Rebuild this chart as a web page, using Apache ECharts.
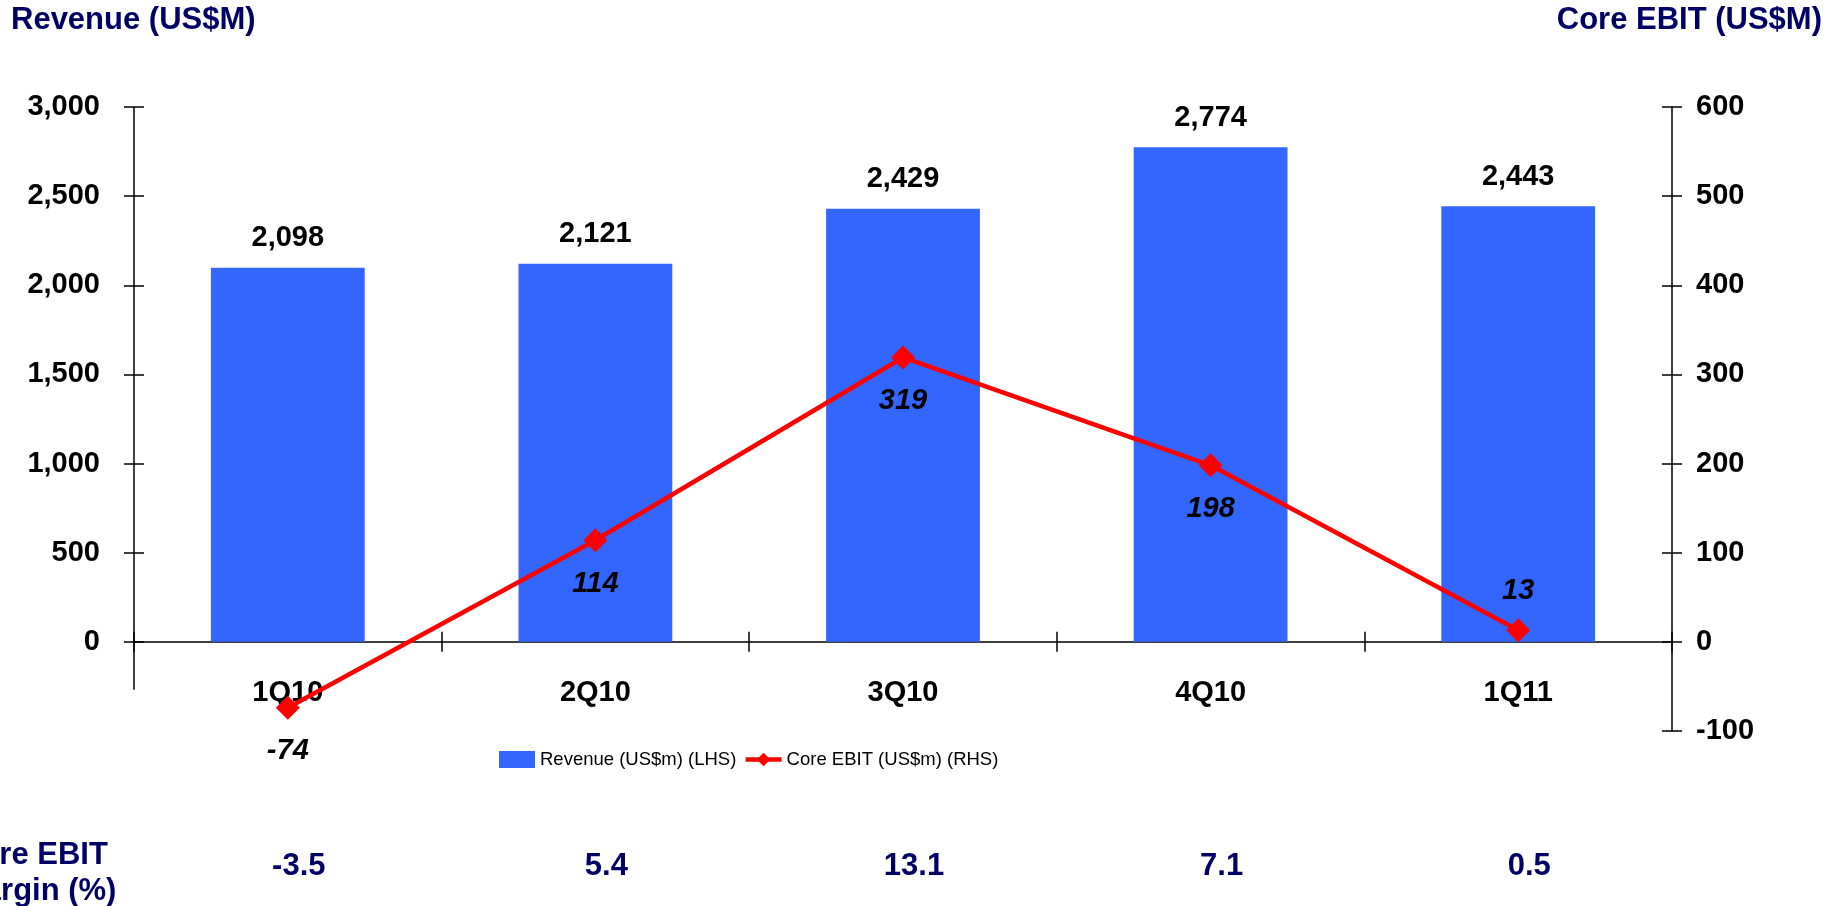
<!DOCTYPE html>
<html><head><meta charset="utf-8">
<script src="https://cdn.jsdelivr.net/npm/echarts@6/dist/echarts.min.js"></script>
<style>html,body{margin:0;padding:0;background:#fff;overflow:hidden}#c{width:1833px;height:906px}</style>
</head><body><div id="c"></div>
<script>
// ---- data ----
const categories = ['1Q10', '2Q10', '3Q10', '4Q10', '1Q11'];
const revenue = [2098, 2121, 2429, 2774, 2443];
const coreEbit = [-74, 114, 319, 198, 13];
const ebitMargin = ['-3.5', '5.4', '13.1', '7.1', '0.5'];
const leftTicks = [0, 500, 1000, 1500, 2000, 2500, 3000];
const rightTicks = [-100, 0, 100, 200, 300, 400, 500, 600];
const ebitLabelAbove = ['1Q11'];

const FONT = "'Liberation Sans', Arial, sans-serif";
const NAVY = '#000066';
const fmt = v => Number(v).toLocaleString('en-US');

const chart = echarts.init(document.getElementById('c'), null, {renderer: 'canvas'});

const GRID = {left: 134, right: 161, top: 107, bottom: 175};
const tickLine = {color: '#000', width: 1.5};
const option = {
  animation: false,
  backgroundColor: '#fff',
  textStyle: {fontFamily: FONT},
  title: [
    {text: 'Revenue (US$M)', left: 11, top: 5, padding: 0,
     textStyle: {fontFamily: FONT, fontSize: 31, fontWeight: 'bold', color: NAVY}},
    {text: 'Core EBIT (US$M)', right: 11, top: 5, padding: 0,
     textStyle: {fontFamily: FONT, fontSize: 31, fontWeight: 'bold', color: NAVY}}
  ],
  legend: {
    left: 499, top: 750, padding: 0,
    itemWidth: 36, itemHeight: 17, itemGap: 7,
    textStyle: {fontFamily: FONT, fontSize: 18.5, color: '#000'},
    data: [
      {name: 'Revenue (US$m) (LHS)', icon: 'rect'},
      {name: 'Core EBIT (US$m) (RHS)', lineStyle: {width: 4.5, color: '#FF0000'}}
    ]
  },
  grid: GRID,
  xAxis: [
    {type: 'category', data: categories, position: 'bottom', offset: 0,
     axisLine: {onZero: false, lineStyle: tickLine},
     axisTick: {show: true, length: 10, lineStyle: tickLine},
     axisLabel: {margin: 37, fontFamily: FONT, fontSize: 29, fontWeight: 'bold', color: '#000'},
     splitLine: {show: false}},
    {type: 'category', data: categories, position: 'bottom', offset: 0,
     axisLine: {show: false, onZero: false},
     axisTick: {show: true, inside: true, length: 10, lineStyle: tickLine},
     axisLabel: {show: false}, splitLine: {show: false}}
  ],
  yAxis: [
    {type: 'value', position: 'left', min: -500, max: 3000, interval: 500,
     axisLine: {show: false},
     axisTick: {show: true, length: 10, lineStyle: tickLine, customValues: leftTicks},
     axisLabel: {margin: 34, fontFamily: FONT, fontSize: 29, fontWeight: 'bold', color: '#000',
                 customValues: leftTicks, formatter: v => v < 0 ? '' : fmt(v)},
     splitLine: {show: false}},
    {type: 'value', position: 'right', min: -100, max: 600, interval: 100,
     axisLine: {show: true, onZero: false, lineStyle: tickLine},
     axisTick: {show: true, length: 10, lineStyle: tickLine, customValues: rightTicks},
     axisLabel: {margin: 24, fontFamily: FONT, fontSize: 29, fontWeight: 'bold', color: '#000',
                 customValues: rightTicks},
     splitLine: {show: false}},
    {type: 'value', position: 'left', min: -500, max: 3000, interval: 500,
     axisLine: {show: false},
     axisTick: {show: true, inside: true, length: 10, lineStyle: tickLine, customValues: leftTicks},
     axisLabel: {show: false}, splitLine: {show: false}},
    {type: 'value', position: 'right', min: -100, max: 600, interval: 100,
     axisLine: {show: false, onZero: false},
     axisTick: {show: true, inside: true, length: 10, lineStyle: tickLine, customValues: rightTicks},
     axisLabel: {show: false}, splitLine: {show: false}}
  ],
  series: [
    {name: 'Revenue (US$m) (LHS)', type: 'bar', xAxisIndex: 0, yAxisIndex: 0,
     data: revenue, barWidth: '50%',
     itemStyle: {color: '#3366FF'},
     label: {show: true, position: 'top', distance: 15, fontFamily: FONT, fontSize: 29,
             fontWeight: 'bold', color: '#000', formatter: p => fmt(p.value)}},
    {name: 'Core EBIT (US$m) (RHS)', type: 'line', xAxisIndex: 0, yAxisIndex: 1,
     data: coreEbit.map((v, i) => ebitLabelAbove.includes(categories[i])
       ? {value: v, label: {position: 'top', distance: 13}} : v),
     symbol: 'diamond', symbolSize: 24,
     lineStyle: {color: '#FF0000', width: 4.5},
     itemStyle: {color: '#FF0000'},
     z: 5,
     label: {show: true, position: 'bottom', distance: 17, fontFamily: FONT, fontSize: 29,
             fontWeight: 'bold', fontStyle: 'italic', color: '#000'}}
  ]
};
chart.setOption(option);

// move the category axis up onto the zero line of the value axes
const zeroY = chart.convertToPixel({yAxisIndex: 0}, 0);
const gridBottomY = 906 - GRID.bottom;
const off = -(gridBottomY - zeroY);
chart.setOption({xAxis: [{offset: off}, {offset: off}]});

// Left axis line (stops a little below zero), margin row and its caption
const axisX = GRID.left;
const yTop = chart.convertToPixel({yAxisIndex: 0}, 3000);
const yBot = chart.convertToPixel({yAxisIndex: 0}, -268);
const graphics = [
  {type: 'line', shape: {x1: axisX, y1: yTop, x2: axisX, y2: yBot}, style: {stroke: '#000', lineWidth: 1.5}, z: 10},
  {type: 'text', left: -42, top: 837,
   style: {text: 'Core EBIT\nMargin (%)', font: "bold 31px 'Liberation Sans', Arial, sans-serif",
           fill: NAVY, lineHeight: 36}}
];
categories.forEach((c, i) => {
  const x = chart.convertToPixel({xAxisIndex: 0}, c);
  graphics.push({type: 'text', x: x + 11, y: 866,
    style: {text: ebitMargin[i], font: "bold 31px 'Liberation Sans', Arial, sans-serif",
            fill: NAVY, align: 'center', verticalAlign: 'middle'}});
});
chart.setOption({graphic: graphics});
</script>
</body></html>
